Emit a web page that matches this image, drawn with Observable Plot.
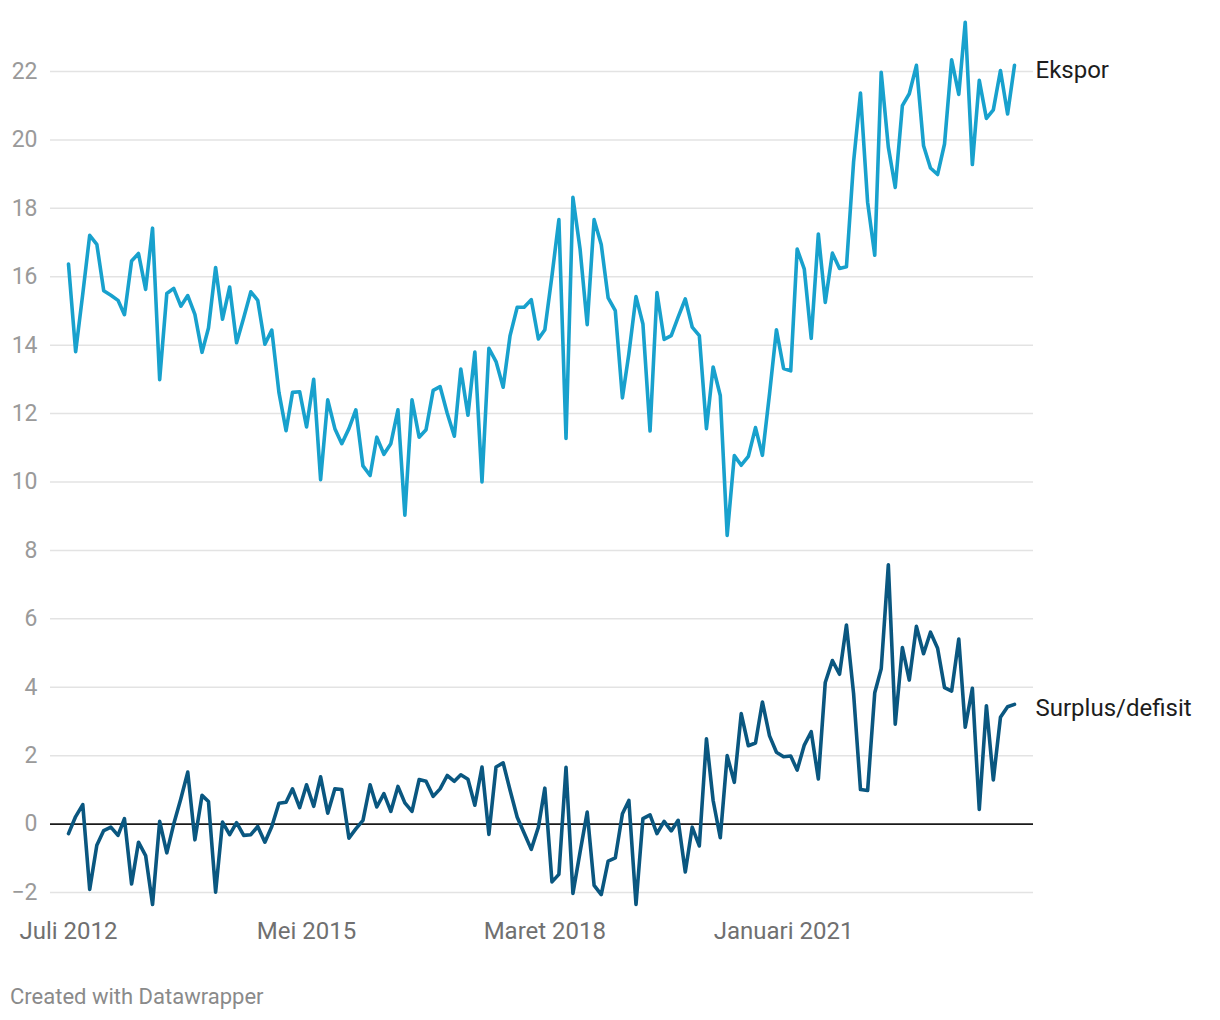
<!DOCTYPE html>
<html>
<head>
<meta charset="utf-8">
<script src="https://cdn.jsdelivr.net/npm/d3@7"></script>
<script src="https://cdn.jsdelivr.net/npm/@observablehq/plot@0.6"></script>
<style>
  body { margin: 0; background: #fff; font-family: Roboto, sans-serif; }
  #chart { position: relative; width: 1220px; height: 1020px; }
  #chart svg { position: absolute; left: 0; top: 0; overflow: visible; }
  #footer { position: absolute; left: 10px; top: 986px; font-size: 22px; line-height: 22px; color: #8a8a8a; font-family: Roboto, sans-serif; }
</style>
</head>
<body>
<div id="chart"><div id="footer">Created with Datawrapper</div></div>
<script>
// Monthly series, July 2012 – October 2023 (billion USD)
const startYear = 2012, startMonth = 6; // July (0-based)

const ekspor = [
  16.37, 13.81, 15.5, 17.21, 16.95, 15.59, 15.46, 15.31, 14.89, 16.46,
  16.68, 15.63, 17.42, 12.99, 15.51, 15.66, 15.14, 15.45, 14.9, 13.79,
  14.5, 16.27, 14.76, 15.70, 14.07, 14.8, 15.56, 15.31, 14.03, 14.44,
  12.62, 11.5, 12.62, 12.64, 11.61, 13.0, 10.07, 12.40, 11.56, 11.12,
  11.56, 12.11, 10.47, 10.19, 11.31, 10.81, 11.12, 12.11, 9.03, 12.40,
  11.31, 11.53, 12.68, 12.79, 12.01, 11.34, 13.30, 11.95, 13.80, 10.0,
  13.91, 13.52, 12.77, 14.28, 15.11, 15.11, 15.33, 14.18, 14.45, 16.03,
  17.67, 11.27, 18.32, 16.81, 14.60, 17.67, 16.94, 15.38, 15.01, 12.46,
  13.75, 15.42, 14.62, 11.49, 15.54, 14.17, 14.28, 14.82, 15.35, 14.53,
  14.28, 11.56, 13.36, 12.53, 8.44, 10.77, 10.49, 10.75, 11.59, 10.78,
  12.58, 14.45, 13.32, 13.25, 16.81, 16.22, 14.20, 17.25, 15.25, 16.69,
  16.24, 16.29, 19.35, 21.37, 18.18, 16.63, 21.98, 19.79, 18.61, 21.0,
  21.35, 22.18, 19.83, 19.18, 18.99, 19.88, 22.34, 21.33, 23.44, 19.28,
  21.74, 20.63, 20.88, 22.03, 20.76, 22.18
];

const surplus = [
  -0.28, 0.22, 0.57, -1.91, -0.62, -0.19, -0.09, -0.33, 0.16, -1.75,
  -0.53, -0.92, -2.35, 0.08, -0.84, 0.0, 0.74, 1.52, -0.46, 0.84,
  0.66, -1.99, 0.06, -0.31, 0.04, -0.33, -0.31, -0.07, -0.53, -0.07,
  0.61, 0.64, 1.03, 0.48, 1.15, 0.52, 1.38, 0.32, 1.03, 1.01,
  -0.41, -0.14, 0.11, 1.15, 0.5, 0.89, 0.37, 1.10, 0.62, 0.37,
  1.3, 1.25, 0.81, 1.03, 1.42, 1.25, 1.44, 1.31, 0.55, 1.67,
  -0.30, 1.67, 1.79, 0.99, 0.2, -0.26, -0.74, -0.09, 1.05, -1.69,
  -1.47, 1.66, -2.03, -0.82, 0.35, -1.79, -2.06, -1.08, -0.99, 0.30,
  0.69, -2.35, 0.16, 0.27, -0.28, 0.08, -0.20, 0.11, -1.40, -0.09,
  -0.64, 2.49, 0.69, -0.40, 2.0, 1.22, 3.23, 2.29, 2.37, 3.57,
  2.58, 2.10, 1.97, 1.99, 1.58, 2.31, 2.70, 1.32, 4.14, 4.78,
  4.38, 5.82, 3.82, 1.01, 0.98, 3.84, 4.54, 7.58, 2.92, 5.16,
  4.21, 5.78, 4.98, 5.61, 5.14, 3.99, 3.89, 5.41, 2.83, 3.97,
  0.43, 3.46, 1.29, 3.12, 3.43, 3.50
];

const seriesNames = ["Ekspor", "Surplus/defisit"];
const seriesColors = ["#18a1cd", "#0a5780"];

const yTicks = [-2, 0, 2, 4, 6, 8, 10, 12, 14, 16, 18, 20, 22];
const xTickDates = [new Date(Date.UTC(2012, 6, 1)), new Date(Date.UTC(2015, 4, 1)), new Date(Date.UTC(2018, 2, 1)), new Date(Date.UTC(2021, 0, 1))];
const xTickLabels = ["Juli 2012", "Mei 2015", "Maret 2018", "Januari 2021"];

// build table
const months = ekspor.map((_, i) => new Date(Date.UTC(startYear, startMonth + i, 1)));
const rows = [];
[ekspor, surplus].forEach((vals, s) => {
  vals.forEach((v, i) => rows.push({ date: months[i], value: v, series: seriesNames[s] }));
});
const lastRows = seriesNames.map((name) => rows.filter(r => r.series === name).at(-1));
const labelMap = new Map(xTickDates.map((d, i) => [+d, xTickLabels[i]]));

const plot = Plot.plot({
  width: 1220,
  height: 960,
  marginLeft: 50,
  marginRight: 187,
  marginTop: 0,
  marginBottom: 60,
  style: { fontFamily: "Roboto, sans-serif", fontSize: "22px", background: "transparent", overflow: "visible" },
  x: { type: "utc", domain: [months[0], months[months.length - 1]], insetLeft: 18, insetRight: 19 },
  y: { domain: [-2, 22], range: [892, 71] },
  color: { domain: seriesNames, range: seriesColors },
  marks: [
    Plot.gridY(yTicks.filter(d => d !== 0), { stroke: "#e3e3e3", strokeOpacity: 1, strokeWidth: 1.5 }),
    Plot.axisY(yTicks, { tickSize: 0, tickPadding: 13, fill: "#9a9a9a", label: null, fontSize: 23 }),
    Plot.axisX(xTickDates, { tickSize: 0, tickPadding: 21, tickFormat: d => labelMap.get(+d), label: null, fill: "#707070", fontSize: 24 }),
    Plot.ruleY([0], { stroke: "#1a1a1a", strokeWidth: 1.8 }),
    Plot.line(rows, { x: "date", y: "value", z: "series", stroke: "series", strokeWidth: 3.6, strokeLinejoin: "round", strokeLinecap: "round" }),
    Plot.text([lastRows[0]], { x: "date", y: "value", text: "series", dx: 21, dy: 5, textAnchor: "start", fill: "#1d1d1d", fontSize: 24 }),
    Plot.text([lastRows[1]], { x: "date", y: "value", text: "series", dx: 21, dy: 4, textAnchor: "start", fill: "#1d1d1d", fontSize: 24 })
  ]
});
document.getElementById("chart").appendChild(plot);
</script>
</body>
</html>
